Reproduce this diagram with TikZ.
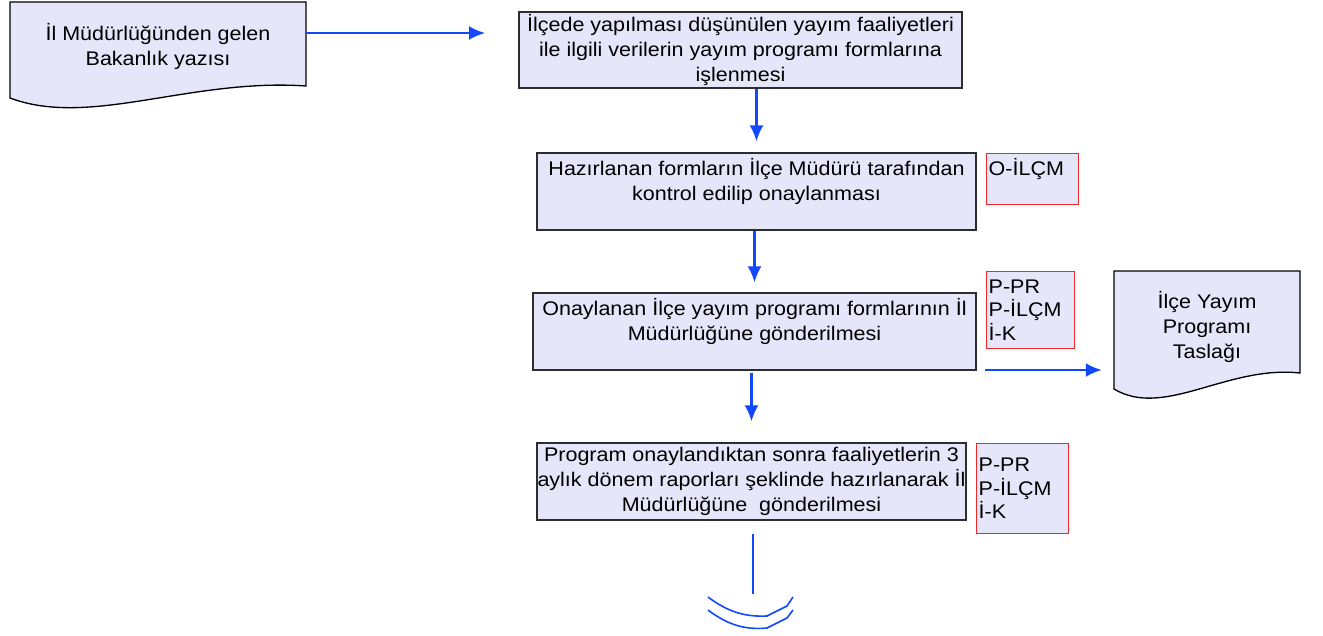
\documentclass[tikz,border=0pt]{standalone}
\usepackage{fontspec}
\setmainfont{Liberation Sans}[FakeStretch=1.09]
\usetikzlibrary{arrows.meta}
\definecolor{boxfill}{RGB}{230,230,250}
\definecolor{flowblue}{RGB}{20,72,255}
\definecolor{tagred}{RGB}{240,40,40}
\definecolor{edgegray}{RGB}{45,45,45}

\begin{document}
\begin{tikzpicture}[x=0.75pt, y=-0.75pt,
        stepbox/.style={draw=edgegray, line width=1pt, fill=boxfill, inner sep=0pt, align=center, font=\fontsize{14.8}{18.75}\selectfont},
        tagbox/.style={draw=tagred, line width=1pt, fill=boxfill, anchor=north west, inner sep=1.5pt, align=left, font=\fontsize{14.8}{17.6}\selectfont},
        docshape/.style={draw=black, line width=1pt, fill=boxfill},
        doctext/.style={inner sep=0pt, align=center, font=\fontsize{14.8}{18.75}\selectfont},
        flow/.style={draw=flowblue, line width=1.6pt, -{Latex[length=12pt,width=10.5pt]}},
        offpage/.style={draw=flowblue, line width=1.2pt}]
                        \useasboundingbox (0,0) rectangle (1323,635);

                        \draw[docshape] (10,98) -- (10,2) -- (306,2) -- (306,86) .. controls (190,78) and (90,128) .. (10,98) -- cycle;
                        \node[doctext, minimum width=222pt, minimum height=63pt] (doc1) at (158,46) {İl Müdürlüğünden gelen\\Bakanlık yazısı};

                        \node[stepbox, minimum width=332.25pt, minimum height=57pt] (box1) at (740.5,50) {İlçede yapılması düşünülen yayım faaliyetleri\\ile ilgili verilerin yayım programı formlarına\\işlenmesi};
                        \node[stepbox, minimum width=329.25pt, minimum height=57.75pt] (box2) at (756.5,191.5) {Hazırlanan formların İlçe Müdürü tarafından\\kontrol edilip onaylanması\\\mbox{}};
                        \node[stepbox, minimum width=332.25pt, minimum height=57.75pt] (box3) at (754.5,331.5) {Onaylanan İlçe yayım programı formlarının İl\\Müdürlüğüne gönderilmesi\\\mbox{}};
                        \node[stepbox, minimum width=321.75pt, minimum height=57.75pt] (box4) at (751.5,481.5) {Program onaylandıktan sonra faaliyetlerin 3\\aylık dönem raporları şeklinde hazırlanarak İl\\Müdürlüğüne\ \ gönderilmesi};

                        \node[tagbox, text width=66pt, minimum height=38.25pt] (tag1) at (986,153) {O-İLÇM\\\mbox{}};
                        \node[tagbox, text width=63pt, minimum height=57.75pt] (tag2) at (986,271) {P-PR\\P-İLÇM\\İ-K};
                        \node[tagbox, text width=66pt, minimum height=67.5pt] (tag3) at (976,443) {P-PR\\P-İLÇM\\İ-K};

                        \draw[docshape] (1114,389) -- (1114,271) -- (1300,271) -- (1300,373) .. controls (1227,365) and (1164,419) .. (1114,389) -- cycle;
                        \node[doctext, minimum width=139.5pt, minimum height=84pt] (doc2) at (1207,327) {İlçe Yayım\\Programı\\Taslağı};

                        \coordinate (a1) at (485,33);
                        \coordinate (a3) at (985,370);
                        \coordinate (ofp) at (753,594);
                        \draw[flow] (doc1.east |- a1) -- (a1);
                        \draw[flow, shorten >=8.25pt] (box2.north |- box1.south) -- (box2.north);
                        \draw[flow, shorten >=7.5pt] (box3.north |- box2.south) -- (box3.north);
                        \draw[flow, shorten <=1.5pt, shorten >=15.75pt] (box4.north |- box3.south) -- (box4.north);
                        \draw[flow, shorten >=9pt] (a3) -- (doc2.west |- a3);

                        \draw[offpage, shorten <=9.75pt] (box4.south -| ofp) -- (ofp);
                        \draw[offpage] (708,597) .. controls (728,612) and (745,617) .. (767,616) -- (787,606) -- (793,597);
                        \draw[offpage] (708,610) .. controls (728,625) and (745,630) .. (767,628) -- (787,618) -- (793,610);
\end{tikzpicture}
\end{document}
